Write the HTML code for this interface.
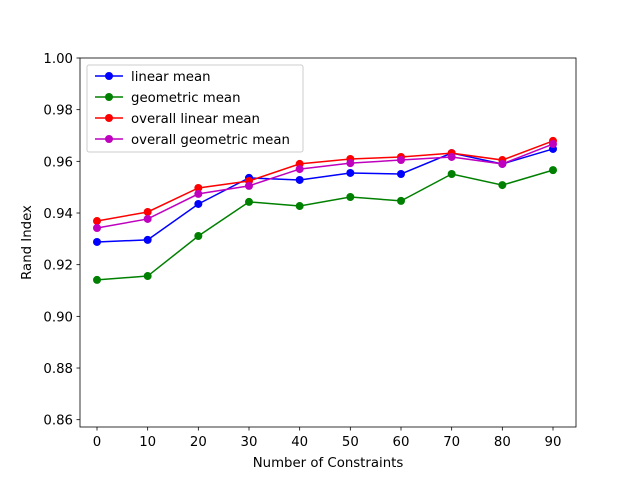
<!DOCTYPE html>
<html><head><meta charset="utf-8"><style>
body{margin:0;background:#fff}
svg text{font-family:"DejaVu Sans","Liberation Sans",sans-serif;fill:#000}
</style></head><body>
<svg id="chart" width="640" height="480" xmlns="http://www.w3.org/2000/svg">
<rect width="640" height="480" fill="#fff"/>
<g id="plot"></g>
</svg>
<script>
const categories=[0,10,20,30,40,50,60,70,80,90];
const linearMean=[0.9288,0.9296,0.9435,0.9536,0.9528,0.9555,0.9551,0.9632,0.9590,0.9648];
const geometricMean=[0.9141,0.9156,0.9311,0.9443,0.9427,0.9462,0.9447,0.9551,0.9508,0.9566];
const overallLinearMean=[0.9369,0.9404,0.9497,0.9524,0.9590,0.9609,0.9617,0.9632,0.9605,0.9679];
const overallGeometricMean=[0.9342,0.9377,0.9474,0.9505,0.9570,0.9593,0.9605,0.9617,0.9590,0.9667];
const yTicks=[0.86,0.88,0.90,0.92,0.94,0.96,0.98,1.00];
const seriesNames=["linear mean","geometric mean","overall linear mean","overall geometric mean"];

const L=80,R=576,T=58,B=427;
const FS=13.3;
const x=v=>97+(v-0)*(553-97)/90;
const y=v=>58+(1.00-v)*(51.67/0.02);
const NS="http://www.w3.org/2000/svg";
const g=document.getElementById('plot');
function el(tag,attrs,parent){const e=document.createElementNS(NS,tag);for(const k in attrs)e.setAttribute(k,attrs[k]);(parent||g).appendChild(e);return e;}

const series=[[linearMean,"#0000ff"],[geometricMean,"#008000"],[overallLinearMean,"#ff0000"],[overallGeometricMean,"#bf00bf"]];
series.forEach((s,i)=>{
  const sg=el('g',{});
  
  
  const p=el('polyline',{points:s[0].map((v,j)=>x(categories[j])+','+y(v)).join(' '),fill:'none',stroke:s[1],'stroke-width':1.5},sg);
  
  
  s[0].forEach((v,j)=>{const c=el('circle',{cx:x(categories[j]),cy:y(v),r:4,fill:s[1]},sg);
    
    });
});
const frame=el('rect',{x:L,y:T,width:R-L,height:B-T,fill:'none',stroke:'#000','stroke-width':0.8});


categories.forEach(c=>{el('line',{x1:x(c),x2:x(c),y1:B,y2:B+3.5,stroke:'#000','stroke-width':0.8});
  const t=el('text',{x:x(c),y:B+19,'text-anchor':'middle','font-size':FS});t.textContent=c;
  
  });
yTicks.forEach(v=>{el('line',{x1:L-3.5,x2:L,y1:y(v),y2:y(v),stroke:'#000','stroke-width':0.8});
  const t=el('text',{x:L-7,y:y(v)+5,'text-anchor':'end','font-size':FS});t.textContent=v.toFixed(2);
  
  });
const xt=el('text',{x:(L+R)/2,y:467,'text-anchor':'middle','font-size':FS});xt.textContent="Number of Constraints";


const yt=el('text',{x:31,y:(T+B)/2,'text-anchor':'middle','font-size':FS,transform:'rotate(-90 31 '+(T+B)/2+')'});yt.textContent="Rand Index";


const lg=el('g',{});


el('rect',{x:87,y:65,width:216,height:87,rx:2,fill:'#fff','fill-opacity':0.8,stroke:'#ccc'},lg);
seriesNames.forEach((n,i)=>{const yy=76+i*21;
  el('line',{x1:95,x2:123,y1:yy,y2:yy,stroke:series[i][1],'stroke-width':1.5},lg);
  el('circle',{cx:109,cy:yy,r:4,fill:series[i][1]},lg);
  const t=el('text',{x:131,y:yy+5,'font-size':FS},lg);t.textContent=n;
  
  });
</script>
</body></html>
